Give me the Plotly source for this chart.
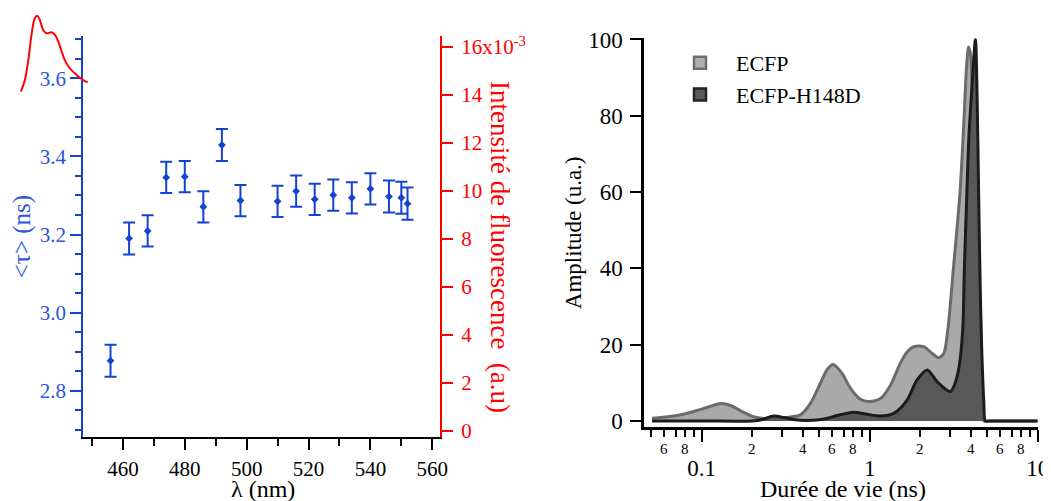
import plotly.graph_objects as go
import math

# ---------------- data ----------------
# left panel: mean lifetime vs emission wavelength
wavelength_nm = [456, 462, 468, 474, 480, 486, 492, 498, 510, 516, 522, 528, 534, 540, 546, 550, 552]
tau_ns = [2.877, 3.190, 3.209, 3.346, 3.348, 3.271, 3.429, 3.287, 3.285, 3.311, 3.290, 3.301, 3.294, 3.317, 3.297, 3.294, 3.279]
tau_err = [0.041, 0.041, 0.040, 0.040, 0.040, 0.040, 0.041, 0.040, 0.040, 0.040, 0.040, 0.040, 0.040, 0.040, 0.041, 0.041, 0.041]

# fluorescence spectrum (x1e-3)
spec_nm = [427.0, 428.3, 429.4, 430.5, 431.5, 432.3, 433.1, 434.2, 435.3, 436.9, 438.0, 439.1, 440.2, 441.2, 442.8, 445.0, 447.1, 448.6]
spec_int = [14.16, 14.65, 15.48, 16.60, 17.23, 17.33, 17.16, 16.74, 16.60, 16.64, 16.53, 16.25, 15.83, 15.48, 15.14, 14.86, 14.65, 14.55]

# right panel: lifetime distributions
ecfp_tau = [0.0507, 0.065, 0.08, 0.0896, 0.105, 0.131, 0.15, 0.17, 0.204, 0.24, 0.281, 0.33, 0.387, 0.444,
            0.509, 0.557, 0.606, 0.685, 0.767, 0.88, 0.987, 1.16, 1.33, 1.52, 1.67, 1.83, 2.10, 2.30, 2.57,
            2.76, 2.92, 3.15, 3.45, 3.65, 3.77, 3.88, 4.0, 4.07, 4.2, 4.35, 4.5, 4.65, 4.8, 5.2, 6.5, 8.0, 10.0]
ecfp_amp = [0.7, 1.2, 1.9, 2.5, 3.4, 4.6, 4.0, 2.7, 1.1, 0.6, 0.5, 1.0, 1.6, 4.6,
            9.9, 13.4, 14.8, 12.5, 8.6, 5.7, 5.1, 5.9, 9.4, 15.1, 18.1, 19.5, 19.5, 18.1, 16.6,
            17.7, 24.0, 40.0, 60.0, 80.0, 92.7, 98.0, 95.4, 85.0, 55.0, 25.0, 8.0, 1.0, 0.0, 0.0, 0.0, 0.0, 0.0]

h148d_tau = [0.0507, 0.1, 0.2, 0.23, 0.268, 0.31, 0.36, 0.42, 0.5, 0.558, 0.65, 0.80, 0.965, 1.16, 1.39, 1.67,
             1.91, 2.20, 2.52, 3.02, 3.2, 3.4, 3.58, 3.66, 3.79, 3.9, 4.07, 4.26, 4.36, 4.45, 4.55, 4.65,
             4.78, 4.88, 5.1, 6.0, 8.0, 10.0]
h148d_amp = [0.0, 0.0, 0.0, 0.4, 1.3, 0.9, 0.3, 0.1, 0.3, 0.7, 1.5, 2.3, 1.75, 1.3, 2.0, 5.5,
             10.7, 13.4, 10.3, 7.7, 9.5, 14.0, 24.0, 40.0, 60.0, 75.0, 88.0, 100.0, 85.0, 60.0, 35.0, 18.0,
             5.0, 0.0, 0.0, 0.0, 0.0, 0.0]

series_names = ["ECFP", "ECFP-H148D"]

# log-axis tick labels
log_major_vals = [0.1, 1, 10]
log_major_text = ["0.1", "1", "10"]
log_minor_vals = [0.05, 0.06, 0.07, 0.08, 0.09, 0.2, 0.3, 0.4, 0.5, 0.6, 0.7, 0.8, 0.9,
                  2, 3, 4, 5, 6, 7, 8, 9]
log_minor_label_vals = [0.06, 0.08, 0.2, 0.4, 0.6, 0.8, 2, 4, 6, 8]
log_minor_label_text = ["6", "8", "2", "4", "6", "8", "2", "4", "6", "8"]

red_tick_vals = [0, 2, 4, 6, 8, 10, 12, 14, 16]
red_tick_text = ["0", "2", "4", "6", "8", "10", "12", "14", "16x10<sup>-3</sup>"]

# ---------------- style ----------------
FONT = "Liberation Serif, Times New Roman, Times, serif"
BLUE = "#1443d2"
BLUE_TXT = "#2a55dc"
RED = "#ff0000"
W, H = 1051, 501
OFF = 8  # page offset of the plot (body margin)

def px_x(p):
    return (p - OFF) / W

def px_y(p):
    return 1 - (p - OFF) / H

fig = go.Figure()

fig.add_trace(go.Scatter(
    x=wavelength_nm, y=tau_ns, mode="markers",
    marker=dict(symbol="diamond", size=6, color=BLUE),
    error_y=dict(type="data", array=tau_err, visible=True, color=BLUE, thickness=2, width=6),
    xaxis="x", yaxis="y", showlegend=False))

fig.add_trace(go.Scatter(x=[None], y=[None], xaxis="x", yaxis="y2", showlegend=False))

fig.add_trace(go.Scatter(
    x=spec_nm, y=spec_int, mode="lines", line=dict(color=RED, width=2, shape="spline"),
    xaxis="x3", yaxis="y4", showlegend=False))

fig.add_trace(go.Scatter(
    x=ecfp_tau, y=ecfp_amp, mode="lines", fill="tozeroy",
    fillcolor="#a9a9a9", line=dict(color="#6b6b6b", width=3, shape="spline", smoothing=0.8),
    xaxis="x2", yaxis="y3", showlegend=False))
fig.add_trace(go.Scatter(
    x=h148d_tau, y=h148d_amp, mode="lines", fill="tozeroy",
    fillcolor="#585858", line=dict(color="#1c1c1c", width=3, shape="spline", smoothing=0.8),
    xaxis="x2", yaxis="y3", showlegend=False))

fig.add_trace(go.Bar(x=[None], y=[None], name=series_names[0], xaxis="x2", yaxis="y3",
                     marker=dict(color="#b0b0b0", line=dict(color="#6e6e6e", width=2.5))))
fig.add_trace(go.Bar(x=[None], y=[None], name=series_names[1], xaxis="x2", yaxis="y3",
                     marker=dict(color="#5a5a5a", line=dict(color="#222222", width=2.5))))

annotations = []
for v, t in zip(log_minor_label_vals, log_minor_label_text):
    annotations.append(dict(x=math.log10(v), y=px_y(449), xref="x2", yref="paper",
                            text=t, showarrow=False, font=dict(family=FONT, size=15, color="black"),
                            xanchor="center", yanchor="middle"))
# axis titles placed as in the original
annotations.append(dict(x=px_x(500), y=px_y(247), xref="paper", yref="paper",
                        text="Intensité de fluorescence  (a.u)", textangle=90, showarrow=False,
                        font=dict(family=FONT, size=27, color=RED),
                        xanchor="center", yanchor="middle"))
annotations.append(dict(x=px_x(263), y=px_y(489), xref="paper", yref="paper",
                        text="λ (nm)", showarrow=False,
                        font=dict(family=FONT, size=24, color="black"),
                        xanchor="center", yanchor="middle"))
annotations.append(dict(x=px_x(843), y=px_y(489), xref="paper", yref="paper",
                        text="Durée de vie (ns)", showarrow=False,
                        font=dict(family=FONT, size=24, color="black"),
                        xanchor="center", yanchor="middle"))

left_x_dom = [px_x(83.3), px_x(440)]
left_y_dom = [px_y(437.3), px_y(36)]
right_x_dom = [px_x(644), px_x(1037.7)]
right_y_dom = [px_y(427.3), px_y(38.3)]

fig.update_layout(
    template="none",
    width=W, height=H,
    margin=dict(l=0, r=0, t=0, b=0, pad=0, autoexpand=False),
    paper_bgcolor="white", plot_bgcolor="rgba(0,0,0,0)",
    font=dict(family=FONT, size=21, color="black"),
    showlegend=True,
    legend=dict(x=px_x(664), y=px_y(42), xanchor="left", yanchor="top", itemwidth=62,
                font=dict(family=FONT, size=22, color="black"),
                bgcolor="rgba(0,0,0,0)", tracegroupgap=0),
    annotations=annotations,
    xaxis=dict(domain=left_x_dom, range=[447.2, 562.5], anchor="y", automargin=False,
               showline=True, linecolor="black", linewidth=2, mirror=False,
               ticks="outside", ticklen=11, tickwidth=2, tickcolor="black",
               tick0=460, dtick=20, showgrid=False, zeroline=False,
               minor=dict(dtick=10, tick0=450, ticks="outside", ticklen=7, tickwidth=2, tickcolor="black"),
               tickfont=dict(family=FONT, size=21, color="black")),
    yaxis=dict(domain=left_y_dom, range=[2.681, 3.708], anchor="x", automargin=False,
               showline=True, linecolor=BLUE, linewidth=2,
               ticks="outside", ticklen=11, tickwidth=2, tickcolor=BLUE,
               tick0=2.8, dtick=0.2, tickformat=".1f", showgrid=False, zeroline=False,
               minor=dict(dtick=0.05, tick0=2.7, ticks="outside", ticklen=6, tickwidth=2, tickcolor=BLUE),
               tickfont=dict(family=FONT, size=21, color=BLUE_TXT),
               title=dict(text="&lt;τ&gt; (ns)", font=dict(family=FONT, size=25, color=BLUE_TXT), standoff=8)),
    yaxis2=dict(overlaying="y", side="right", anchor="x", range=[-0.276, 16.46], automargin=False,
                showline=True, linecolor=RED, linewidth=2,
                ticks="outside", ticklen=11, tickwidth=2, tickcolor=RED,
                tickmode="array", tickvals=red_tick_vals, ticktext=red_tick_text,
                showgrid=False, zeroline=False, ticklabelstandoff=4,
                tickfont=dict(family=FONT, size=21, color=RED)),
    xaxis2=dict(domain=right_x_dom, type="log", range=[-1.343, 1.0], anchor="y3", automargin=False,
                showline=True, linecolor="black", linewidth=2.5,
                ticks="outside", ticklen=12, tickwidth=2, tickcolor="black",
                tickmode="array", tickvals=log_major_vals, ticktext=log_major_text,
                minor=dict(tickmode="array", tickvals=log_minor_vals, ticks="outside",
                           ticklen=7, tickwidth=2, tickcolor="black", showgrid=False),
                showgrid=False, zeroline=False, ticklabelstandoff=6,
                tickfont=dict(family=FONT, size=23, color="black")),
    yaxis3=dict(domain=right_y_dom, range=[-1.65, 100.3], anchor="x2", automargin=False,
                showline=True, linecolor="black", linewidth=2.5,
                ticks="outside", ticklen=11, tickwidth=2, tickcolor="black",
                tick0=0, dtick=20, showgrid=False, zeroline=False, ticklabelstandoff=3,
                tickfont=dict(family=FONT, size=23, color="black"),
                title=dict(text="Amplitude (u.a.)", font=dict(family=FONT, size=23, color="black"), standoff=1)),
    xaxis3=dict(domain=[0, px_x(440)], range=[447.2 - (83.3 - OFF) / 3.09, 562.5], anchor="y4",
                visible=False, showgrid=False, zeroline=False, automargin=False),
    yaxis4=dict(domain=[px_y(437.3), 1.0], range=[-0.276, (430.7 - OFF) / 23.94], anchor="x3",
                visible=False, showgrid=False, zeroline=False, automargin=False),
)

fig.write_html("out.html")
